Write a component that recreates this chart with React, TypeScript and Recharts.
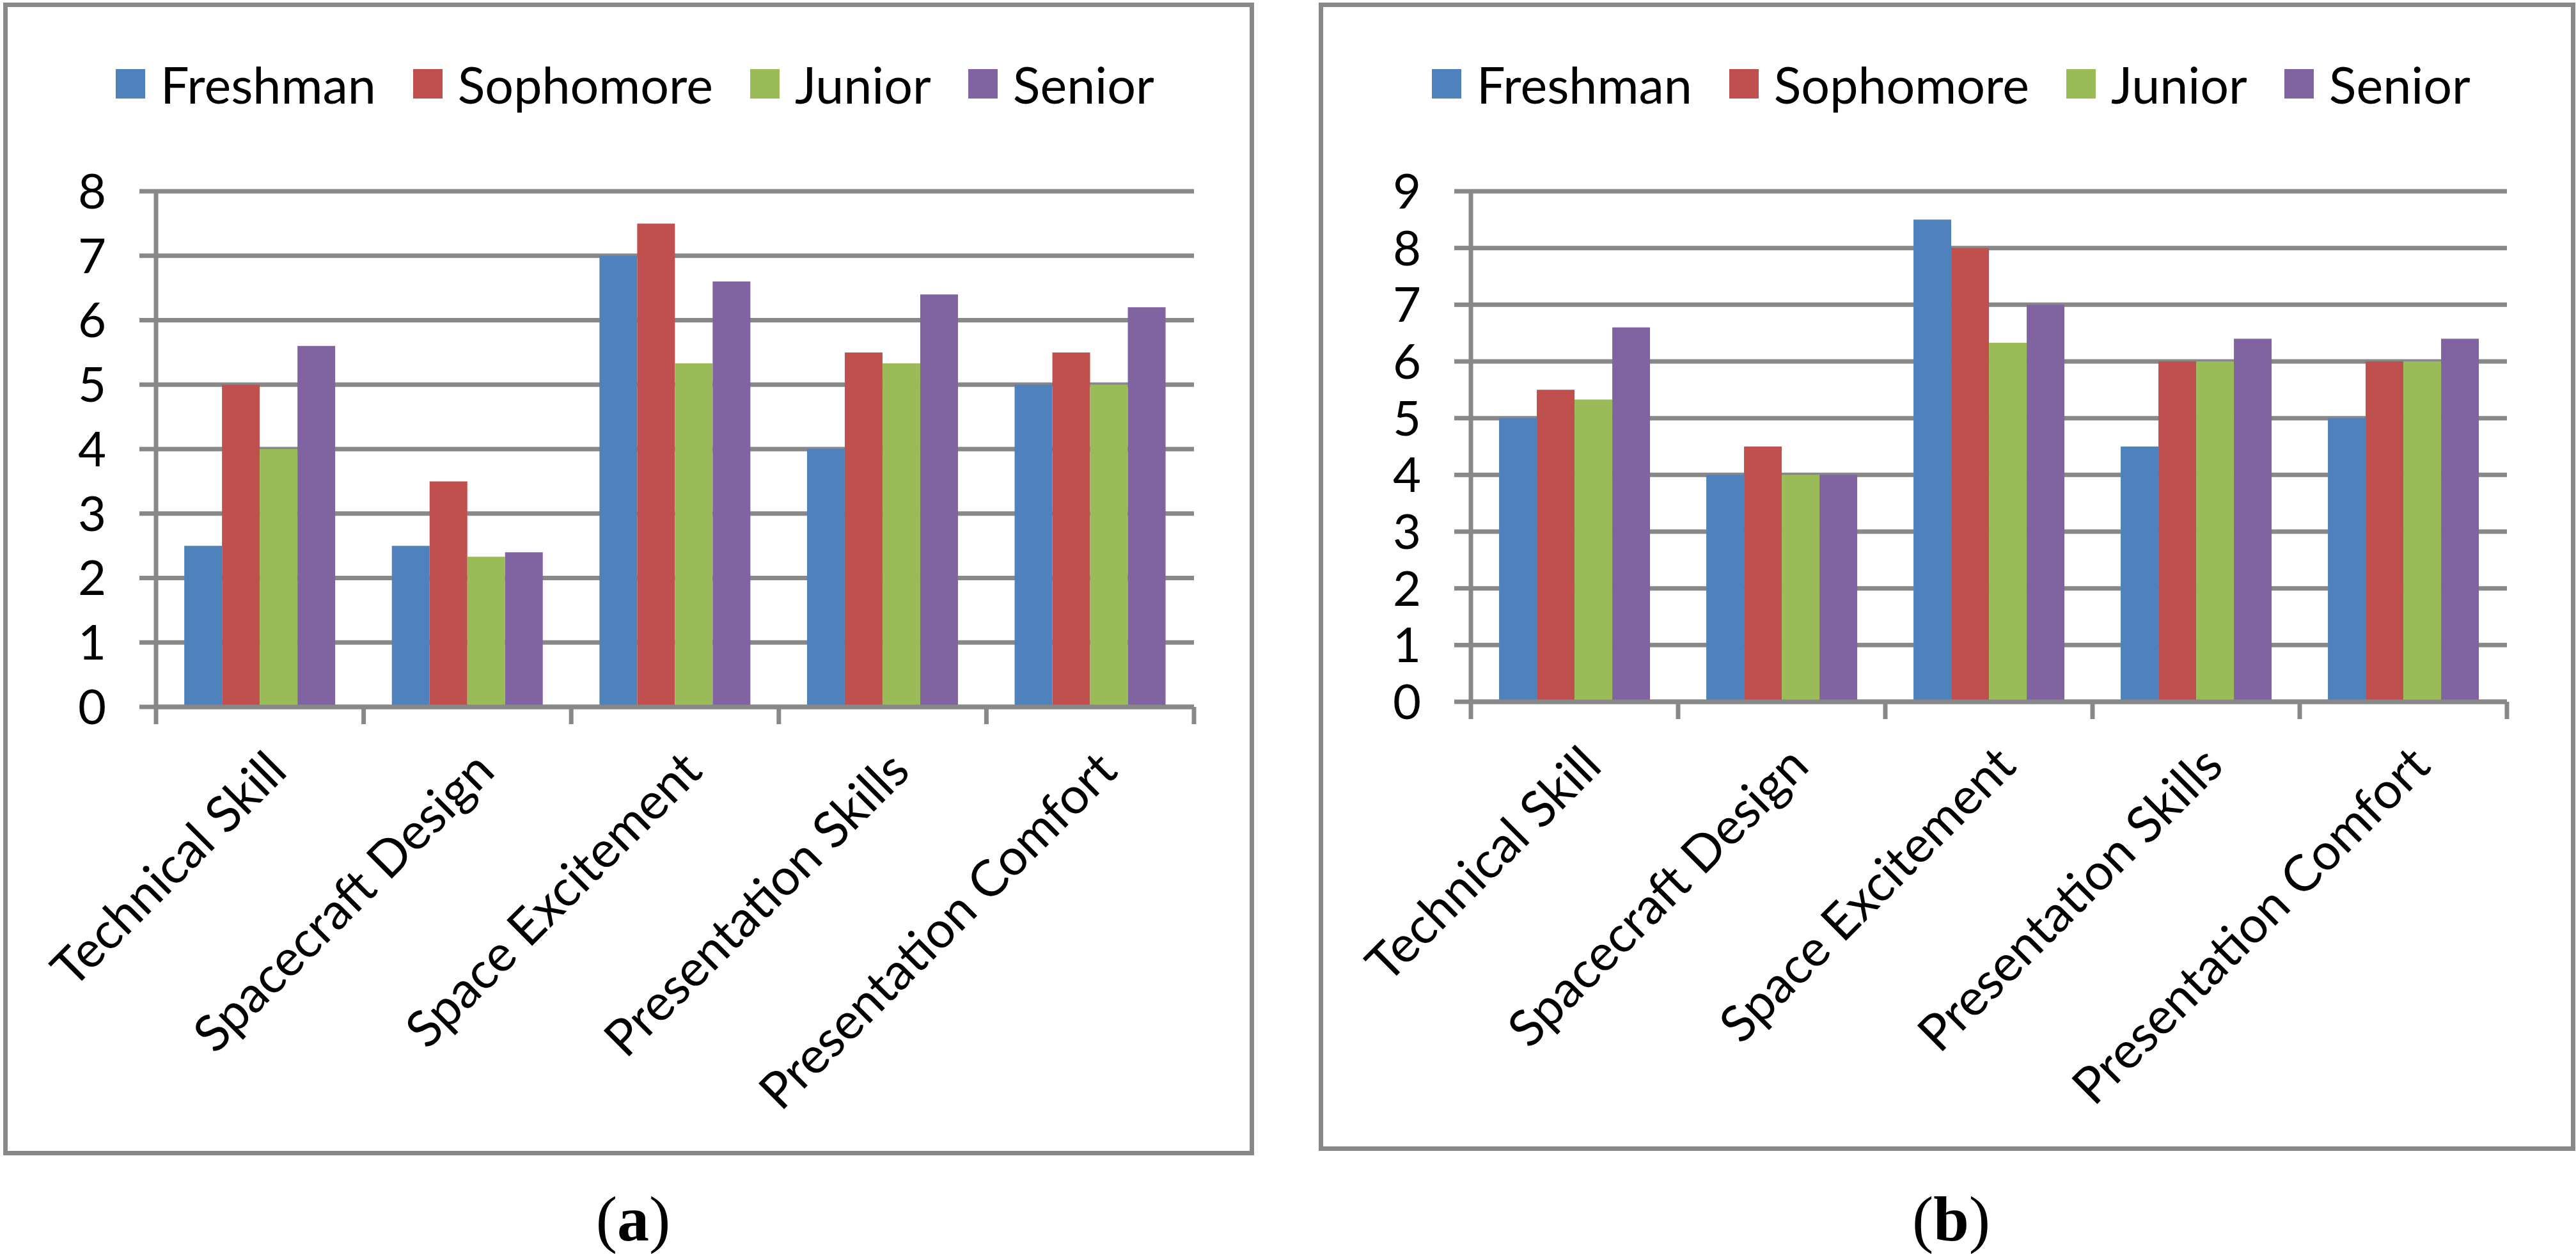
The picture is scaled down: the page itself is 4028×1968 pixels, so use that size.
import React from 'react';
import { BarChart, Bar, XAxis, YAxis, CartesianGrid } from 'recharts';

const categories = [
  'Technical Skill',
  'Spacecraft Design',
  'Space Excitement',
  'Presentation Skills',
  'Presentation Comfort',
];
const seriesNames = ['Freshman', 'Sophomore', 'Junior', 'Senior'];
const seriesColors = ['#4F81BD', '#C0504D', '#9BBB59', '#8064A2'];

// panel (a)
const freshmanA = [2.5, 2.5, 7, 4, 5];
const sophomoreA = [5, 3.5, 7.5, 5.5, 5.5];
const juniorA = [4, 2.33, 5.33, 5.33, 5];
const seniorA = [5.6, 2.4, 6.6, 6.4, 6.2];
const ticksA = [0, 1, 2, 3, 4, 5, 6, 7, 8];

// panel (b)
const freshmanB = [5, 4, 8.5, 4.5, 5];
const sophomoreB = [5.5, 4.5, 8, 6, 6];
const juniorB = [5.33, 4, 6.33, 6, 6];
const seniorB = [6.6, 4, 7, 6.4, 6.4];
const ticksB = [0, 1, 2, 3, 4, 5, 6, 7, 8, 9];

const buildRows = (cols: number[][]) =>
  categories.map((name, i) => {
    const row: Record<string, string | number> = { name };
    seriesNames.forEach((s, k) => {
      row[s] = cols[k][i];
    });
    return row;
  });

const dataA = buildRows([freshmanA, sophomoreA, juniorA, seniorA]);
const dataB = buildRows([freshmanB, sophomoreB, juniorB, seniorB]);

const GRID = '#888888';
const FONT = 'Lato, "Open Sans", sans-serif';
const TICK_SIZE = 76;
const LABEL_SIZE = 79;

function CategoryTick(props: any) {
  const { x, y, payload, index, visibleTicksCount } = props;
  const half = payload && payload.offset ? payload.offset : 162;
  const last = index === visibleTicksCount - 1;
  const ax = x + 46;
  const ay = y + 104;
  return (
    <g>
      <line x1={x - half} y1={y} x2={x - half} y2={y + 27} stroke={GRID} strokeWidth={7} />
      {last && <line x1={x + half} y1={y} x2={x + half} y2={y + 27} stroke={GRID} strokeWidth={7} />}
      <text
        x={ax}
        y={ay}
        textAnchor="end"
        transform={`rotate(-45, ${ax}, ${ay})`}
        fontFamily={FONT}
        fontSize={LABEL_SIZE}
        fill="#000"
      >
        {payload.value}
      </text>
    </g>
  );
}

function Legend({ left }: { left: number }) {
  return (
    <div
      style={{
        position: 'absolute',
        left,
        top: 85,
        height: 92,
        display: 'flex',
        alignItems: 'center',
        fontFamily: FONT,
        fontSize: LABEL_SIZE,
        whiteSpace: 'nowrap',
      }}
    >
      {seriesNames.map((s, k) => (
        <div key={s} style={{ display: 'flex', alignItems: 'center', marginRight: 58 }}>
          <div style={{ width: 46, height: 46, background: seriesColors[k], marginRight: 24 }} />
          <span>{s}</span>
        </div>
      ))}
    </div>
  );
}

function Panel({
  data,
  ticks,
  left,
  marginLeft,
  marginRight,
  marginBottom,
}: {
  data: any[];
  ticks: number[];
  left: number;
  marginLeft: number;
  marginRight: number;
  marginBottom: number;
}) {
  return (
    <div style={{ position: 'absolute', left, top: 0 }}>
      <BarChart
        width={2014}
        height={1800}
        data={data}
        margin={{ top: 299, right: marginRight, left: marginLeft, bottom: marginBottom }}
        barCategoryGap="13.6%"
        barGap={0}
      >
        <CartesianGrid vertical={false} stroke={GRID} strokeWidth={7} />
        <XAxis
          dataKey="name"
          interval={0}
          height={500}
          tickSize={0}
          tickMargin={0}
          tickLine={false}
          axisLine={{ stroke: GRID, strokeWidth: 7 }}
          tick={<CategoryTick />}
        />
        <YAxis
          width={150}
          domain={[0, ticks[ticks.length - 1]]}
          ticks={ticks}
          interval={0}
          tickSize={26}
          tickMargin={52}
          axisLine={{ stroke: GRID, strokeWidth: 7 }}
          tickLine={{ stroke: GRID, strokeWidth: 7 }}
          tick={{ fill: '#000', fontSize: TICK_SIZE, fontFamily: FONT }}
        />
        {seriesNames.map((s, k) => (
          <Bar key={s} dataKey={s} fill={seriesColors[k]} isAnimationActive={false} />
        ))}
      </BarChart>
    </div>
  );
}

function Caption({ center, letter }: { center: number; letter: string }) {
  return (
    <div
      style={{
        position: 'absolute',
        left: center - 200,
        top: 1856,
        width: 400,
        textAlign: 'center',
        fontFamily: '"Liberation Serif", "Times New Roman", serif',
        fontSize: 100,
        lineHeight: '100px',
      }}
    >
      (<b>{letter}</b>)
    </div>
  );
}

export default function App() {
  const frame = {
    position: 'absolute' as const,
    border: `7px solid ${GRID}`,
    boxSizing: 'border-box' as const,
    background: '#fff',
  };
  return (
    <div style={{ position: 'absolute', left: 0, top: 0, width: 4028, height: 1968, background: '#fff' }}>
      <div style={{ ...frame, left: 5, top: 4, width: 1956, height: 1802 }} />
      <div style={{ ...frame, left: 2062, top: 4, width: 1965, height: 1795 }} />
      <Panel data={dataA} ticks={ticksA} left={0} marginLeft={94} marginRight={147} marginBottom={195} />
      <Panel data={dataB} ticks={ticksB} left={2014} marginLeft={136} marginRight={108} marginBottom={203} />
      <Legend left={181} />
      <Legend left={2239} />
      <Caption center={990} letter="a" />
      <Caption center={3051} letter="b" />
    </div>
  );
}
